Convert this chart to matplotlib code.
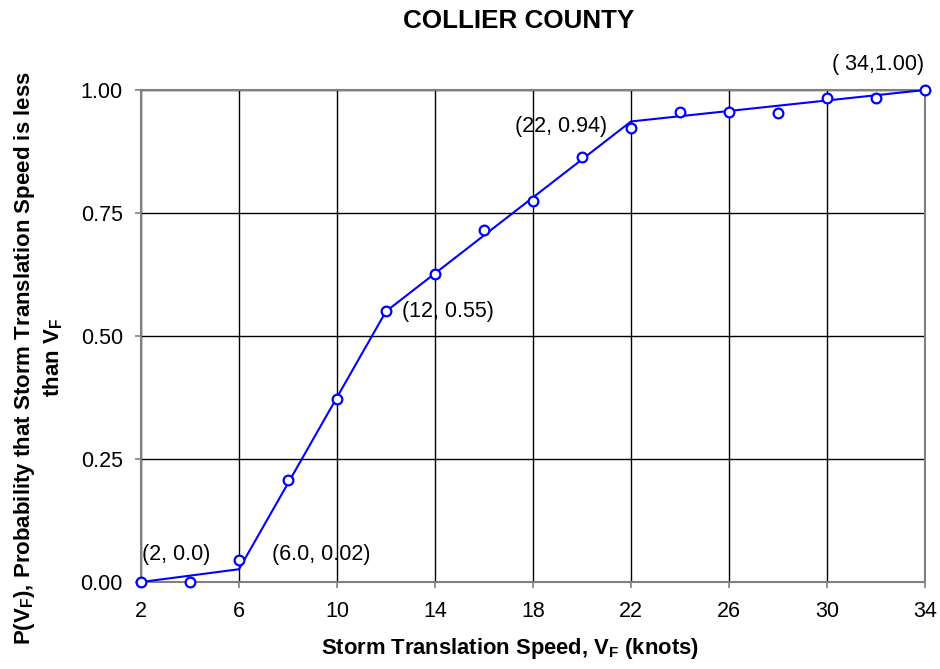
import matplotlib
matplotlib.use("Agg")
import matplotlib.pyplot as plt

plt.rcParams["font.family"] = ["Liberation Sans", "DejaVu Sans"]
plt.rcParams["mathtext.fontset"] = "custom"
plt.rcParams["mathtext.bf"] = "Liberation Sans:bold"
plt.rcParams["mathtext.rm"] = "Liberation Sans"

# Beobachtete Werte (Kreise)
speed = [2, 4, 6, 8, 10, 12, 14, 16, 18, 20, 22, 24, 26, 28, 30, 32, 34]
prob = [0.0, 0.0, 0.045, 0.207, 0.371, 0.551, 0.626, 0.715, 0.775, 0.864,
        0.923, 0.955, 0.955, 0.953, 0.984, 0.984, 1.0]

# Stueckweise lineare Anpassung
fit_speed = [2, 6, 12, 22, 34]
fit_prob = [0.0, 0.026, 0.55, 0.936, 1.0]

# Beschriftungen an den Knickpunkten (linke Kante, Mitte)
labels = ["(2, 0.0)", "(6.0, 0.02)", "(12, 0.55)", "(22, 0.94)", "( 34,1.00)"]
label_pos = [(2.05, 0.055), (7.35, 0.055), (12.65, 0.549), (17.27, 0.925), (30.2, 1.051)]

xticks = [2, 6, 10, 14, 18, 22, 26, 30, 34]
yticks = [0.0, 0.25, 0.5, 0.75, 1.0]

fig = plt.figure(figsize=(9.4, 6.69), dpi=100)
ax = fig.add_axes([0.15, 0.13, 0.834, 0.7355])

ax.plot(fit_speed, fit_prob, color="#0000ff", lw=1.5, zorder=3)
ax.plot(speed, prob, "o", color="#0000ff", mfc="white", ms=7, mew=1.6,
        clip_on=False, zorder=4)

for txt, (x, y) in zip(labels, label_pos):
    ax.text(x, y, txt, fontsize=15.5, ha="left", va="center", clip_on=False)

ax.set_xlim(2, 34)
ax.set_ylim(0, 1)
ax.set_xticks(xticks)
ax.set_yticks(yticks)
ax.set_yticklabels([f"{v:.2f}" for v in yticks])
ax.tick_params(labelsize=15.5, direction="out", length=4.5, width=1.2, color="#808080")
ax.tick_params(axis="y", pad=8.5)
ax.tick_params(axis="x", pad=9)
ax.grid(True, color="black", lw=1)
for s in ax.spines.values():
    s.set_color("#808080")
    s.set_linewidth(1.5)

fig.text(0.552, 0.958, "COLLIER COUNTY", fontsize=18.7, fontweight="bold",
         ha="center", va="baseline")
fig.text(0.5426, 0.0224, r"Storm Translation Speed, V$_\mathbf{F}$ (knots)",
         fontsize=15.8, fontweight="bold", ha="center", va="baseline")
fig.text(0.041, 0.465,
         "P(V$_\\mathbf{F}$), Probability that Storm Translation Speed is less\n"
         "than V$_\\mathbf{F}$", fontsize=16, fontweight="bold",
         rotation=90, ha="center", va="center", multialignment="center")

fig.savefig("out.png", dpi=100)
